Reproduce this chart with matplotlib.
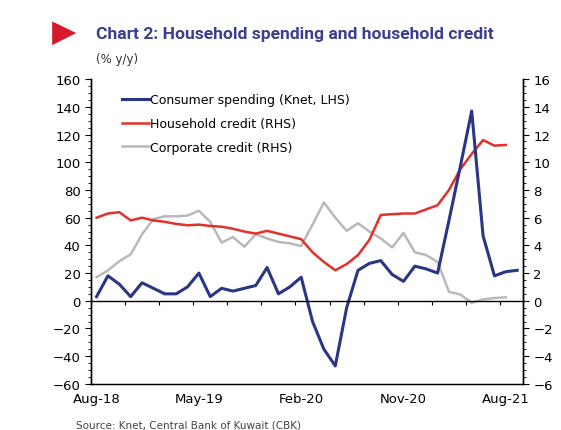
import numpy as np
import matplotlib.pyplot as plt
from matplotlib.ticker import MultipleLocator, FixedLocator
from matplotlib.patches import Polygon

# monthly, Aug-18 .. Sep-21
months = ['Aug-18', 'May-19', 'Feb-20', 'Nov-20', 'Aug-21']
label_pos = [0, 9, 18, 27, 36]

# consumer spending via Knet (% y/y, LHS)
consumer = [3, 18, 12, 3, 13, 9, 5, 5, 10, 20,
            3, 9, 7, 9, 11, 24, 5, 10, 17, -15,
            -35, -47, -5, 22, 27, 29, 19, 14, 25, 23,
            20, 58, 97, 137, 47, 18, 21, 22]
# household credit (% y/y, RHS)
household = [6.0, 6.3, 6.4, 5.8, 6.0, 5.8, 5.7, 5.55, 5.45, 5.5,
             5.4, 5.35, 5.2, 5.0, 4.85, 5.05, 4.85, 4.65, 4.45, 3.5,
             2.8, 2.2, 2.65, 3.3, 4.4, 6.2, 6.25, 6.3, 6.3, 6.6,
             6.9, 8.0, 9.5, 10.6, 11.6, 11.2, 11.25]
# corporate credit (% y/y, RHS)
corporate = [1.7, 2.2, 2.85, 3.35, 4.8, 5.9, 6.1, 6.1, 6.15, 6.5,
             5.7, 4.2, 4.6, 3.9, 4.8, 4.5, 4.25, 4.15, 3.95, 5.5,
             7.1, 6.0, 5.05, 5.6, 5.0, 4.5, 3.85, 4.9, 3.5, 3.3,
             2.8, 0.65, 0.45, -0.15, 0.1, 0.2, 0.25]

navy = '#2a3585'
red = '#e2302b'
grey = '#b9b9b9'

plt.rcParams['font.family'] = 'DejaVu Sans'

fig = plt.figure(figsize=(5.61, 4.31), dpi=100)
ax = fig.add_axes([0.162, 0.107, 0.770, 0.707])
ax2 = ax.twinx()
ax.set_zorder(ax2.get_zorder() + 1)
ax.patch.set_visible(False)

x1 = np.arange(len(consumer))
x2 = np.arange(len(household))
x3 = np.arange(len(corporate))

l3, = ax2.plot(x3, corporate, color=grey, lw=1.8)
l2, = ax2.plot(x2, household, color=red, lw=1.8)
l1, = ax.plot(x1, consumer, color=navy, lw=2.2)

ax.set_xlim(-0.5, 37.5)
ax.set_ylim(-60, 160)
ax2.set_ylim(-6, 16)

# zero line carries the month tick marks
ax.spines['bottom'].set_position(('data', 0))
ax.spines['top'].set_visible(False)
ax2.spines['top'].set_visible(False)
ax.xaxis.set_major_locator(FixedLocator(np.arange(2.5, 37, 3)))
ax.tick_params(axis='x', direction='out', length=3, width=0.8, labelbottom=False)

# labels along the frame bottom
sec = ax.secondary_xaxis('bottom')
sec.set_xticks(label_pos)
sec.set_xticklabels(months)
sec.tick_params(length=0, labelsize=9.5, pad=6)

ax.yaxis.set_major_locator(MultipleLocator(20))
ax.yaxis.set_minor_locator(MultipleLocator(5))
ax.tick_params(axis='y', which='major', length=4, labelsize=9.5)
ax.tick_params(axis='y', which='minor', length=2)
ax2.yaxis.set_major_locator(MultipleLocator(2))
ax2.yaxis.set_minor_locator(MultipleLocator(0.5))
ax2.tick_params(axis='y', which='major', length=4, labelsize=9.5)
ax2.tick_params(axis='y', which='minor', length=2)
for a in (ax, ax2):
    for s in a.spines.values():
        s.set_linewidth(1.0)

ax.legend([l1, l2, l3],
          ['Consumer spending (Knet, LHS)', 'Household credit (RHS)', 'Corporate credit (RHS)'],
          loc='upper left', bbox_to_anchor=(0.045, 0.99), frameon=False,
          fontsize=9, handlelength=2.2, handletextpad=0.1, labelspacing=0.85)

# header
fig.patches.append(Polygon([[0.093, 0.948], [0.093, 0.893], [0.136, 0.921]],
                           closed=True, transform=fig.transFigure,
                           facecolor='#d7192a', edgecolor='none'))
fig.text(0.172, 0.921, 'Chart 2: Household spending and household credit',
         family='Roboto', fontweight='bold',
         fontsize=12.6, color='#3d3f8e', va='center')
fig.text(0.172, 0.863, '(% y/y)', fontsize=8.5, color='#333333', va='center')
fig.text(0.135, 0.0, 'Source: Knet, Central Bank of Kuwait (CBK)', fontsize=7.5,
         color='#444444', va='bottom')

fig.savefig('out.png', dpi=100)
